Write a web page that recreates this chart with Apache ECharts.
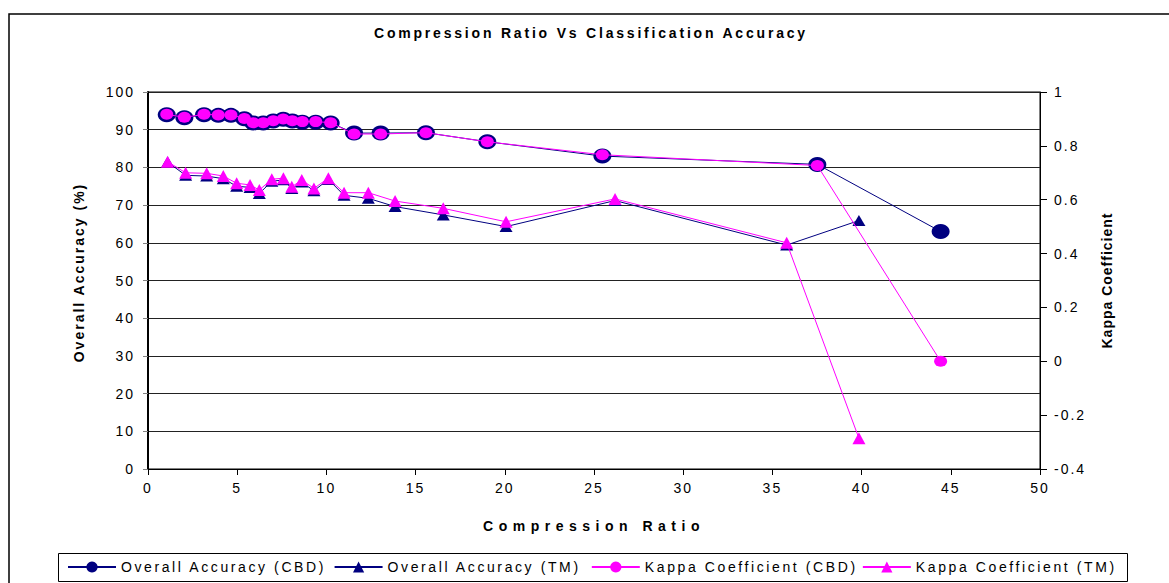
<!DOCTYPE html>
<html><head><meta charset="utf-8">
<script src="https://cdn.jsdelivr.net/npm/echarts@6/dist/echarts.min.js"></script>
<style>
html,body{margin:0;padding:0;background:#fff;}
#chart{width:1169px;height:583px;}
#chart text{letter-spacing:2px;}
</style></head><body><div id="chart"></div>
<script>
// ---- data ----
const cbdRatio   = [1.05, 2.04, 3.14, 3.94, 4.65, 5.40, 5.90, 6.46, 7.02, 7.58, 8.09, 8.65, 9.40, 10.24, 11.55, 13.04, 15.58, 19.02, 25.47, 37.52, 44.43];
const overallCBD = [93.97, 93.2, 93.97, 93.8, 93.8, 92.9, 91.8, 91.8, 92.3, 92.8, 92.3, 92.0, 92.0, 91.8, 89.1, 89.1, 89.2, 86.8, 83.0, 80.8, 63.0];
const kappaCBD   = [0.917, 0.906, 0.917, 0.915, 0.915, 0.902, 0.886, 0.886, 0.893, 0.900, 0.893, 0.890, 0.890, 0.886, 0.844, 0.844, 0.849, 0.815, 0.767, 0.727, 0.0];
const tmRatio    = [1.10, 2.11, 3.29, 4.22, 4.97, 5.72, 6.24, 6.94, 7.59, 8.06, 8.62, 9.30, 10.11, 10.99, 12.35, 13.85, 16.55, 20.07, 26.18, 35.8, 39.85];
const overallTM  = [81.4, 77.9, 77.7, 77.0, 75.0, 74.7, 73.1, 76.3, 76.7, 74.4, 76.1, 73.8, 76.8, 72.6, 71.8, 69.6, 67.4, 64.3, 71.2, 59.4, 65.9];
const kappaTM    = [0.741, 0.700, 0.698, 0.688, 0.661, 0.655, 0.636, 0.676, 0.680, 0.648, 0.673, 0.642, 0.680, 0.626, 0.626, 0.595, 0.568, 0.518, 0.603, 0.44, -0.286];
const seriesNames = ['Overall Accuracy (CBD)', 'Overall Accuracy (TM)', 'Kappa Coefficient (CBD)', 'Kappa Coefficient (TM)'];
const titleText = 'Compression Ratio Vs Classification Accuracy';
const xName = 'Compression Ratio';
const yLeftName = 'Overall Accuracy (%)';
const yRightName = 'Kappa Coefficient';
const xRange = {min: 0, max: 50, interval: 5};
const yLeftRange = {min: 0, max: 100, interval: 10};
const yRightRange = {min: -0.4, max: 1, interval: 0.2};

const zip = (xs, ys) => xs.map((x, i) => [x, ys[i]]);
const FONT = "'Liberation Sans', Arial, sans-serif";
const NAVY = '#000080', MAG = '#FF00FF';

const chart = echarts.init(document.getElementById('chart'), null, {renderer: 'svg'});
chart.setOption({
  animation: false,
  backgroundColor: '#fff',
  textStyle: {fontFamily: FONT, color: '#000'},
  title: {text: titleText, left: 374, top: 26, padding: 0,
    textStyle: {fontFamily: FONT, fontSize: 14, fontWeight: 'bold', color: '#000'}},
  graphic: [
    {type: 'rect', z: 0, silent: true, shape: {x: 9, y: 14, width: 1200, height: 620},
      style: {fill: 'none', stroke: '#000', lineWidth: 1.5}},
    {type: 'rect', z: 0, silent: true, shape: {x: 58.5, y: 553.5, width: 1069, height: 28},
      style: {fill: '#fff', stroke: '#000', lineWidth: 1}}
  ],
  legend: {
    z: 10, left: 58, top: 553, padding: [7, 9, 7, 9], itemWidth: 48, itemHeight: 14, itemGap: 64,
    textStyle: {fontFamily: FONT, fontSize: 14, color: '#000'},
    data: seriesNames
  },
  grid: {left: 148, right: 129, top: 92, bottom: 114, show: true, borderColor: '#000', borderWidth: 1},
  xAxis: {
    type: 'value', min: xRange.min, max: xRange.max, interval: xRange.interval,
    name: xName, nameLocation: 'middle', nameGap: 50,
    nameTextStyle: {fontFamily: FONT, fontSize: 14, fontWeight: 'bold', color: '#000'},
    axisLine: {show: true, onZero: false, lineStyle: {color: '#000', width: 1}},
    axisTick: {show: true, length: 6, lineStyle: {color: '#000'}},
    axisLabel: {fontFamily: FONT, fontSize: 14, color: '#000', margin: 12},
    splitLine: {show: false}
  },
  yAxis: [{
    type: 'value', position: 'left', min: yLeftRange.min, max: yLeftRange.max, interval: yLeftRange.interval,
    name: yLeftName, nameLocation: 'middle', nameRotate: 90, nameGap: 62,
    nameTextStyle: {fontFamily: FONT, fontSize: 14, fontWeight: 'bold', color: '#000', padding: [0, 0, 0, 16]},
    axisLine: {show: true, lineStyle: {color: '#000', width: 2}},
    axisTick: {show: true, length: 5, lineStyle: {color: '#808080'}},
    axisLabel: {fontFamily: FONT, fontSize: 14, color: '#000', margin: 13},
    splitLine: {show: true, lineStyle: {color: '#222', width: 1}}
  }, {
    type: 'value', position: 'right', min: yRightRange.min, max: yRightRange.max, interval: yRightRange.interval,
    name: yRightName, nameLocation: 'middle', nameRotate: 90, nameGap: 60,
    nameTextStyle: {fontFamily: FONT, fontSize: 14, fontWeight: 'bold', color: '#000'},
    axisLine: {show: true, lineStyle: {color: '#000', width: 1}},
    axisTick: {show: true, length: 7, lineStyle: {color: '#000'}},
    axisLabel: {fontFamily: FONT, fontSize: 14, color: '#000', margin: 14,
      formatter: v => String(Math.round(v * 10) / 10)},
    splitLine: {show: false}
  }],
  series: [
    {name: seriesNames[0], type: 'line', yAxisIndex: 0, data: zip(cbdRatio, overallCBD),
      symbol: 'circle', symbolSize: [18, 15], lineStyle: {color: NAVY, width: 1},
      itemStyle: {color: NAVY}, z: 2},
    {name: seriesNames[1], type: 'line', yAxisIndex: 0, data: zip(tmRatio, overallTM),
      symbol: 'triangle', symbolSize: [13, 11], lineStyle: {color: NAVY, width: 1},
      itemStyle: {color: NAVY}, z: 3},
    {name: seriesNames[2], type: 'line', yAxisIndex: 1, data: zip(cbdRatio, kappaCBD),
      symbol: 'circle', symbolSize: [13, 11], lineStyle: {color: MAG, width: 1},
      itemStyle: {color: MAG}, z: 4},
    {name: seriesNames[3], type: 'line', yAxisIndex: 1, data: zip(tmRatio, kappaTM),
      symbol: 'triangle', symbolSize: [13, 12], lineStyle: {color: MAG, width: 1},
      itemStyle: {color: MAG}, z: 5}
  ]
});

const spacing = {};
spacing[titleText] = 2.8;
spacing[xName] = 5.5;
spacing[yLeftName] = 2;
spacing[yRightName] = 1;
seriesNames.forEach(n => spacing[n] = 2.6);
function applySpacing() {
  document.querySelectorAll('#chart text').forEach(t => {
    const s = spacing[t.textContent];
    if (s != null) t.style.letterSpacing = s + 'px';
  });
}
chart.on('finished', applySpacing);
applySpacing();
setTimeout(applySpacing, 0);
</script></body></html>
